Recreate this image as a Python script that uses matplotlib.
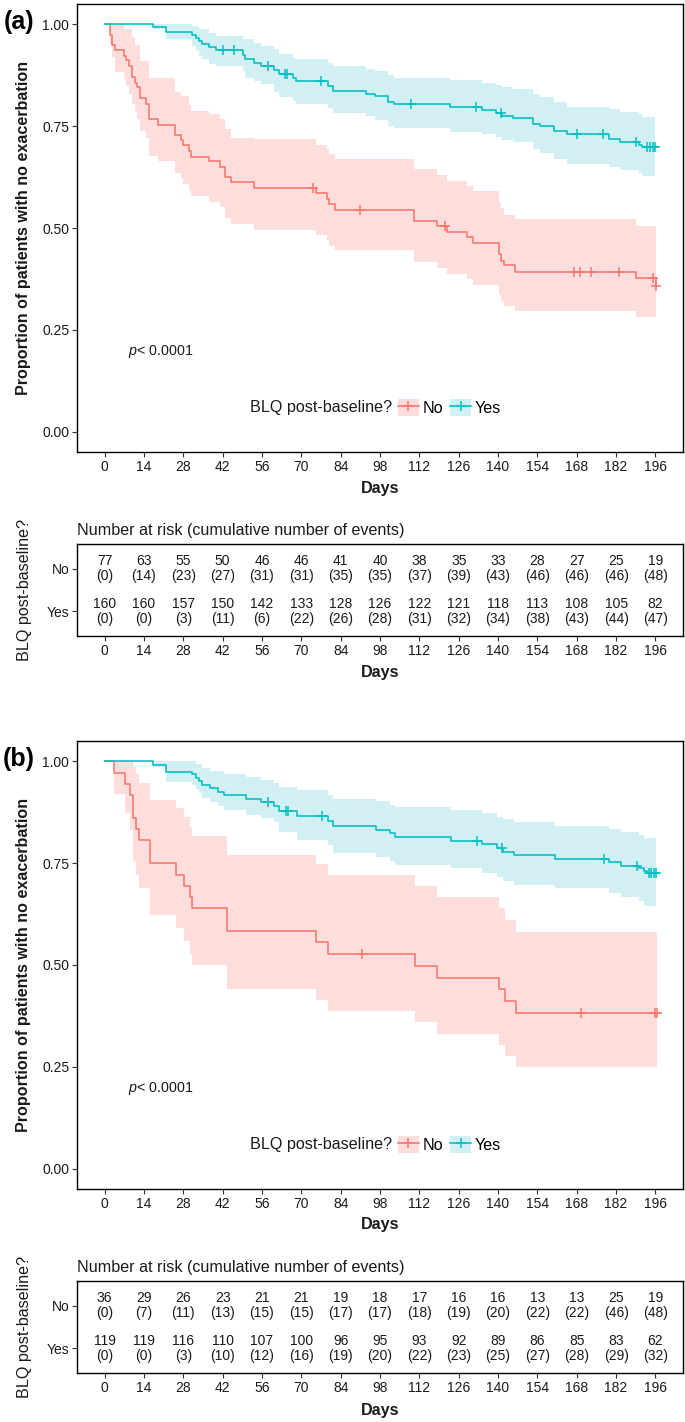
import numpy as np
import matplotlib
matplotlib.use("Agg")
import matplotlib.pyplot as plt
from matplotlib.lines import Line2D
from matplotlib.patches import Patch
from matplotlib.legend_handler import HandlerTuple

# --------------------------------------------------
# Data
# --------------------------------------------------
day_ticks = [0, 14, 28, 42, 56, 70, 84, 98, 112, 126, 140, 154, 168, 182, 196]
surv_ticks = [0.0, 0.25, 0.50, 0.75, 1.0]
groups = ["No", "Yes"]

# panel (a), BLQ = No
a_no_t = [0, 1.8, 2.6, 3.8, 6.9, 7.8, 8.7, 9.7, 10.7, 11.6, 12.5, 14.8, 15.8, 19.0,
          25.0, 27.1, 27.9, 29.9, 30.9, 37.1, 41.0, 42.8, 44.9, 53.1, 75.1, 79.0,
          80.0, 82.0, 110.1, 118.2, 122.0, 128.9, 131.0, 140.3, 141.1, 142.2, 146.2,
          189.2, 196.1]
a_no_s = [1.0, 0.974, 0.950, 0.937, 0.923, 0.912, 0.898, 0.871, 0.857, 0.846, 0.820,
          0.805, 0.767, 0.754, 0.728, 0.715, 0.703, 0.689, 0.675, 0.664, 0.650, 0.625,
          0.613, 0.599, 0.585, 0.572, 0.558, 0.545, 0.518, 0.504, 0.491, 0.477, 0.463,
          0.435, 0.420, 0.408, 0.392, 0.377, 0.357]
a_no_lo = [1.0, 0.950, 0.919, 0.882, 0.865, 0.849, 0.828, 0.804, 0.787, 0.767, 0.738,
           0.722, 0.678, 0.664, 0.636, 0.623, 0.607, 0.592, 0.578, 0.564, 0.551, 0.525,
           0.511, 0.496, 0.484, 0.470, 0.457, 0.445, 0.416, 0.402, 0.388, 0.375, 0.361,
           0.335, 0.320, 0.308, 0.295, 0.281, 0.281]
a_no_hi = [1.0, 1.0, 1.0, 1.0, 0.988, 0.988, 0.988, 0.968, 0.950, 0.950, 0.910, 0.910,
           0.868, 0.868, 0.834, 0.824, 0.824, 0.802, 0.788, 0.779, 0.767, 0.742, 0.720,
           0.719, 0.705, 0.693, 0.681, 0.669, 0.644, 0.630, 0.615, 0.603, 0.590, 0.563,
           0.548, 0.533, 0.521, 0.504, 0.504]
a_no_cens = [74.2, 91.0, 121.3, 167.1, 169.0, 173.1, 183.2, 195.2, 196.1]

# panel (a), BLQ = Yes
a_yes_t = [0, 17.2, 21.7, 31.2, 32.4, 33.6, 34.7, 37.1, 39.8, 49.1, 50.1, 53.1, 55.5,
           60.2, 62.1, 67.0, 68.0, 79.6, 81.4, 93.0, 96.2, 101.0, 103.0, 123.0, 134.3,
           139.3, 141.5, 145.2, 152.3, 155.0, 160.0, 164.5, 179.4, 183.3, 190.1, 191.3]
a_yes_s = [1.0, 0.993, 0.981, 0.974, 0.966, 0.958, 0.952, 0.945, 0.938, 0.925, 0.914,
           0.906, 0.898, 0.888, 0.877, 0.869, 0.861, 0.849, 0.837, 0.830, 0.824, 0.810,
           0.804, 0.797, 0.790, 0.783, 0.776, 0.770, 0.755, 0.751, 0.738, 0.730, 0.718,
           0.710, 0.705, 0.698]
a_yes_lo = [1.0, 0.988, 0.964, 0.947, 0.935, 0.922, 0.914, 0.902, 0.898, 0.886, 0.869,
            0.861, 0.853, 0.835, 0.822, 0.812, 0.805, 0.795, 0.782, 0.775, 0.765, 0.751,
            0.746, 0.735, 0.730, 0.724, 0.716, 0.711, 0.693, 0.685, 0.670, 0.658, 0.650,
            0.642, 0.634, 0.628]
a_yes_hi = [1.0, 1.0, 1.0, 0.996, 0.996, 0.988, 0.988, 0.980, 0.972, 0.964, 0.964,
            0.955, 0.947, 0.939, 0.928, 0.918, 0.914, 0.906, 0.898, 0.891, 0.886, 0.875,
            0.869, 0.864, 0.857, 0.851, 0.845, 0.841, 0.829, 0.822, 0.810, 0.798, 0.791,
            0.786, 0.779, 0.773]
a_yes_cens = [42.0, 46.0, 58.0, 64.2, 65.0, 76.9, 109.1, 132.1, 141.1, 168.1, 177.2,
              189.1, 193.1, 194.0, 195.0, 196.0]

# panel (b), BLQ = No
b_no_t = [0, 3.2, 7.1, 9.0, 10.1, 11.2, 12.2, 16.2, 25.3, 28.3, 30.3, 31.2, 43.4,
          75.3, 79.4, 110.3, 118.4, 140.4, 142.6, 146.5]
b_no_s = [1.0, 0.972, 0.944, 0.917, 0.861, 0.833, 0.806, 0.750, 0.722, 0.694, 0.667,
          0.639, 0.583, 0.556, 0.528, 0.498, 0.469, 0.440, 0.411, 0.381]
b_no_lo = [1.0, 0.921, 0.872, 0.831, 0.755, 0.721, 0.688, 0.622, 0.590, 0.558, 0.527,
           0.500, 0.441, 0.415, 0.388, 0.360, 0.330, 0.303, 0.276, 0.250]
b_no_hi = [1.0, 1.0, 1.0, 1.0, 0.985, 0.970, 0.946, 0.905, 0.885, 0.863, 0.839, 0.817,
           0.770, 0.748, 0.721, 0.694, 0.667, 0.639, 0.611, 0.582]
b_no_cens = [91.5, 169.5, 195.7, 196.6]

# panel (b), BLQ = Yes
b_yes_t = [0, 17.2, 21.9, 31.2, 32.4, 33.6, 34.5, 37.4, 40.4, 42.4, 50.5, 55.5, 60.3,
           62.1, 68.3, 79.6, 81.4, 96.6, 101.6, 103.3, 123.3, 134.4, 139.6, 141.6,
           145.6, 160.4, 179.4, 183.6, 190.1, 191.9, 193.1]
b_yes_s = [1.0, 0.992, 0.975, 0.968, 0.959, 0.951, 0.942, 0.934, 0.926, 0.917, 0.908,
           0.900, 0.891, 0.878, 0.867, 0.854, 0.841, 0.831, 0.823, 0.814, 0.804, 0.797,
           0.788, 0.778, 0.769, 0.761, 0.752, 0.744, 0.738, 0.731, 0.725]
b_yes_lo = [1.0, 0.985, 0.949, 0.942, 0.933, 0.923, 0.911, 0.901, 0.891, 0.880, 0.868,
            0.860, 0.850, 0.827, 0.807, 0.795, 0.774, 0.766, 0.756, 0.746, 0.737, 0.727,
            0.715, 0.707, 0.697, 0.688, 0.676, 0.667, 0.657, 0.646, 0.646]
b_yes_hi = [1.0, 1.0, 1.0, 1.0, 0.993, 0.993, 0.983, 0.976, 0.976, 0.968, 0.961, 0.954,
            0.947, 0.936, 0.929, 0.918, 0.908, 0.902, 0.894, 0.888, 0.880, 0.872, 0.864,
            0.858, 0.850, 0.841, 0.833, 0.827, 0.819, 0.811, 0.811]
b_yes_cens = [58.2, 64.4, 65.3, 77.2, 132.4, 141.4, 177.6, 189.5, 193.6, 194.5, 195.4,
              196.3]

# number at risk (cumulative number of events)
a_no_risk = [77, 63, 55, 50, 46, 46, 41, 40, 38, 35, 33, 28, 27, 25, 19]
a_no_events = [0, 14, 23, 27, 31, 31, 35, 35, 37, 39, 43, 46, 46, 46, 48]
a_yes_risk = [160, 160, 157, 150, 142, 133, 128, 126, 122, 121, 118, 113, 108, 105, 82]
a_yes_events = [0, 0, 3, 11, 6, 22, 26, 28, 31, 32, 34, 38, 43, 44, 47]
b_no_risk = [36, 29, 26, 23, 21, 21, 19, 18, 17, 16, 16, 13, 13, 25, 19]
b_no_events = [0, 7, 11, 13, 15, 15, 17, 17, 18, 19, 20, 22, 22, 46, 48]
b_yes_risk = [119, 119, 116, 110, 107, 100, 96, 95, 93, 92, 89, 86, 85, 83, 62]
b_yes_events = [0, 0, 3, 10, 12, 16, 19, 20, 22, 23, 25, 27, 28, 29, 32]

# --------------------------------------------------
# Style
# --------------------------------------------------
RED = "#F8766D"
CYAN = "#00BFC4"
RED_FILL = "#FEDEDC"
CYAN_FILL = "#D2EFF4"
LW = 1.15
TXT = "#1a1a1a"
SMALL = 10.0
BIG = 11.6

plt.rcParams["font.family"] = ["Liberation Sans", "DejaVu Sans"]
plt.rcParams["mathtext.fontset"] = "custom"
plt.rcParams["mathtext.it"] = "Liberation Sans:italic"
plt.rcParams["mathtext.rm"] = "Liberation Sans"

W, H = 685, 1422
XLIM = (-9.8, 205.8)


def fx(px):
    return px / W


def fy(py):
    return 1 - py / H


def step_at(t, s, x):
    idx = np.searchsorted(t, x, side="right") - 1
    return np.asarray(s)[idx]


def style_axes(ax):
    for sp in ax.spines.values():
        sp.set_linewidth(1.0)
        sp.set_color("black")
    ax.tick_params(length=3.5, width=0.8, pad=2.0, labelsize=SMALL,
                   labelcolor=TXT, color="#333333")
    ax.set_xlim(XLIM)
    ax.set_xticks(day_ticks)
    ax.set_xticklabels([str(d) for d in day_ticks])


# --------------------------------------------------
# Survival panel
# --------------------------------------------------
def draw_survival(ax, curves):
    # ribbons first, then step lines and censor marks on top
    for t, s, lo, hi, cens, color, fill in curves:
        t_end = max(cens[-1], t[-1])
        ax.fill_between(list(t) + [t_end], list(lo) + [lo[-1]], list(hi) + [hi[-1]],
                        step="post", color=fill, lw=0, zorder=1)
    for t, s, lo, hi, cens, color, fill in curves:
        t_end = max(cens[-1], t[-1])
        ax.step(list(t) + [t_end], list(s) + [s[-1]], where="post", color=color,
                lw=LW, zorder=3)
        ax.plot(cens, step_at(t, s, cens), ls="none", marker="+", ms=7, mew=1.1,
                color=color, zorder=4)

    style_axes(ax)
    ax.set_ylim(-0.05, 1.05)
    ax.set_yticks(surv_ticks)
    ax.set_yticklabels([f"{v:.2f}" for v in surv_ticks])

    ax.text(8.2, 0.197, "$p$< 0.0001", fontsize=10.3, ha="left", va="center",
            color=TXT)

    handles = [
        (Patch(facecolor=RED_FILL, lw=0),
         Line2D([], [], color=RED, lw=LW, marker="+", ms=7, mew=1.1)),
        (Patch(facecolor=CYAN_FILL, lw=0),
         Line2D([], [], color=CYAN, lw=LW, marker="+", ms=7, mew=1.1)),
    ]
    ax.text(102.3, 0.059, "BLQ post-baseline?", fontsize=BIG, ha="right",
            va="center", color=TXT)
    ax.legend(handles, groups, handler_map={tuple: HandlerTuple(ndivide=1)},
              ncol=2, loc="center left", bbox_to_anchor=(104.4, 0.059),
              bbox_transform=ax.transData, frameon=False, fontsize=BIG,
              handlelength=1.3, handleheight=1.3, handletextpad=0.2,
              columnspacing=0.45, borderpad=0, borderaxespad=0)


# --------------------------------------------------
# Risk table panel
# --------------------------------------------------
def draw_risk_table(ax, no_risk, no_events, yes_risk, yes_events):
    style_axes(ax)
    ax.set_ylim(0.43, 2.57)
    ax.set_yticks([2, 1])
    ax.set_yticklabels(groups)
    rows = [(2, no_risk, no_events), (1, yes_risk, yes_events)]
    for y, risk, events in rows:
        for d, r, e in zip(day_ticks, risk, events):
            ax.text(d, y, f"{r}\n({e})", ha="center", va="center", fontsize=SMALL,
                    linespacing=1.15, color=TXT)
    ax.text(0.0, 1.147, "Number at risk (cumulative number of events)",
            transform=ax.transAxes, ha="left", va="center", fontsize=BIG,
            color=TXT)


# --------------------------------------------------
# Figure
# --------------------------------------------------
def main():
    fig = plt.figure(figsize=(W / 100, H / 100), dpi=100)
    left, width = fx(77), fx(683) - fx(77)
    panel_h = 448 / H
    table_h = 92 / H

    panels = [
        ("(a)", 0,
         [(a_no_t, a_no_s, a_no_lo, a_no_hi, a_no_cens, RED, RED_FILL),
          (a_yes_t, a_yes_s, a_yes_lo, a_yes_hi, a_yes_cens, CYAN, CYAN_FILL)],
         (a_no_risk, a_no_events, a_yes_risk, a_yes_events)),
        ("(b)", 737,
         [(b_no_t, b_no_s, b_no_lo, b_no_hi, b_no_cens, RED, RED_FILL),
          (b_yes_t, b_yes_s, b_yes_lo, b_yes_hi, b_yes_cens, CYAN, CYAN_FILL)],
         (b_no_risk, b_no_events, b_yes_risk, b_yes_events)),
    ]

    for tag, off, curves, table in panels:
        ax = fig.add_axes([left, fy(452 + off), width, panel_h])
        draw_survival(ax, curves)
        axt = fig.add_axes([left, fy(636 + off), width, table_h])
        draw_risk_table(axt, *table)

        fig.text(fx(19), fy(22 + off), tag, fontsize=18, fontweight="bold",
                 ha="center", va="center", color="black")
        fig.text(fx(24), fy(228 + off), "Proportion of patients with no exacerbation",
                 rotation=90, fontsize=BIG, fontweight="bold", ha="center",
                 va="center", color=TXT)
        fig.text(fx(380), fy(488 + off), "Days", fontsize=BIG, fontweight="bold",
                 ha="center", va="center", color=TXT)
        fig.text(fx(24), fy(590 + off), "BLQ post-baseline?", rotation=90,
                 fontsize=BIG, ha="center", va="center", color=TXT)
        fig.text(fx(380), fy(673 + off), "Days", fontsize=BIG, fontweight="bold",
                 ha="center", va="center", color=TXT)

    fig.savefig("out.png", dpi=100)


if __name__ == "__main__":
    main()
